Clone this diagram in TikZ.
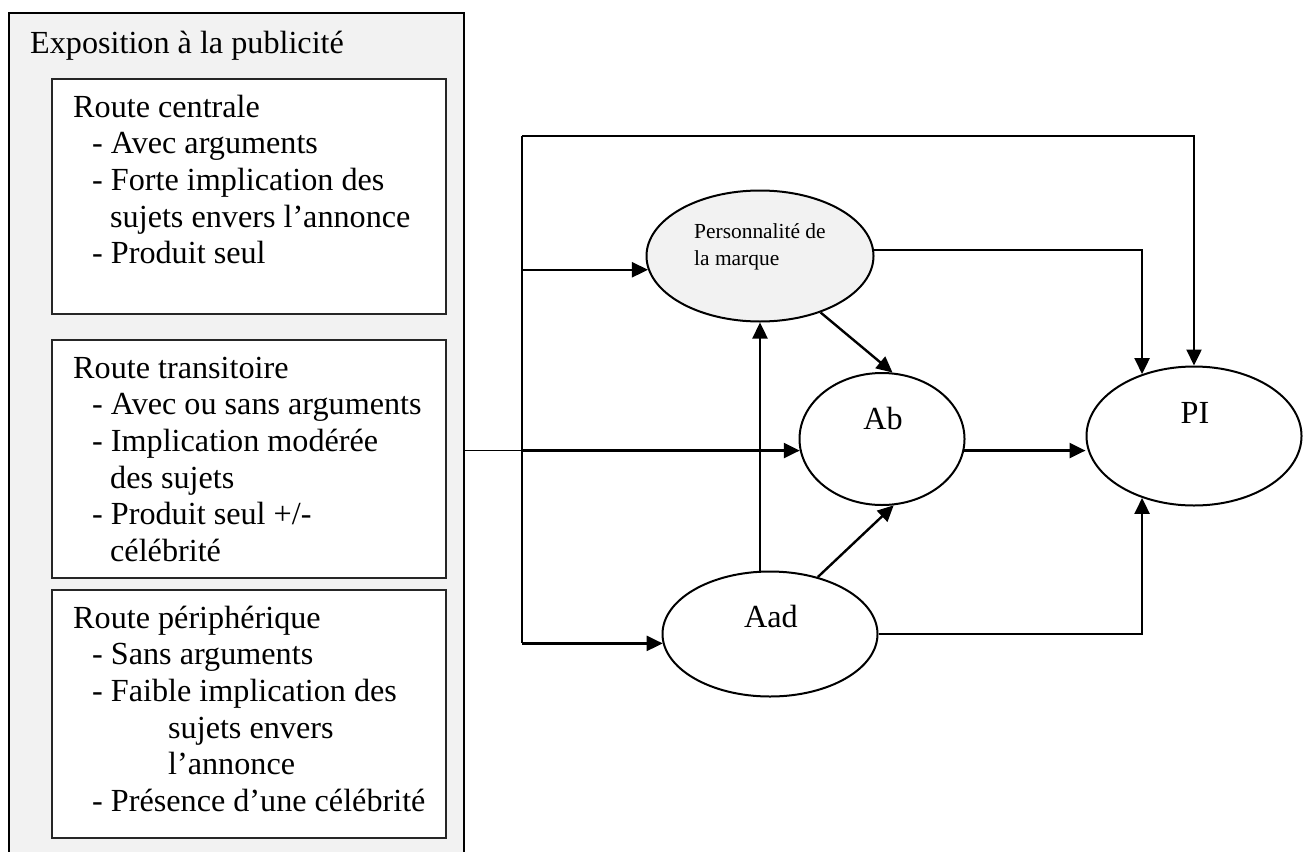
\documentclass[tikz,border=0pt]{standalone}
\usepackage{fontspec}
\setmainfont{Liberation Serif}
\usetikzlibrary{arrows.meta,shapes.geometric,calc}
\definecolor{panelgray}{HTML}{F2F2F2}

\begin{document}
\begin{tikzpicture}[x=1bp,y=-1bp,
  bigtext/.style={font=\fontsize{32.3}{36.8}\selectfont},
  smalltext/.style={font=\fontsize{21.5}{27}\selectfont},
  panel/.style={draw=black,line width=2.2bp,fill=panelgray,rectangle,inner sep=0,outer sep=0,anchor=north west},
  routebox/.style={draw=black!85,line width=1.8bp,fill=white,rectangle,inner sep=0,outer sep=0,anchor=north west,minimum width=394bp},
  block/.style={bigtext,align=left,inner sep=0,anchor=north west},
  var/.style={ellipse,draw=black,line width=2bp,inner sep=0,fill=white},
  arr/.style={line width=2.4bp,-{Triangle[length=16bp,width=15bp]}},
  wire/.style={line width=2bp},
]
\useasboundingbox (0,0) rectangle (1310,851);

% exposure panel with the three persuasion routes
\node[panel,minimum width=455bp,minimum height=880bp] (expo) at (9,13) {};
\node[bigtext,anchor=base west,inner sep=0] (expo-title) at (30,53) {Exposition à la publicité};

\node[routebox,minimum height=235bp] (central) at (52,79) {};
\node[routebox,minimum height=238bp] (transit) at (52,340) {};
\node[routebox,minimum height=248bp] (periph) at (52,590) {};

\node[block] (central-text) at (73,91.2) {\strut Route centrale\\
  \hspace*{19bp}- Avec arguments\\
  \hspace*{19bp}- Forte implication des\\
  \hspace*{37bp}sujets envers l’annonce\\
  \hspace*{19bp}- Produit seul};

\node[block] (transit-text) at (73,352.2) {\strut Route transitoire\\
  \hspace*{19bp}- Avec ou sans arguments\\
  \hspace*{19bp}- Implication modérée\\
  \hspace*{37bp}des sujets\\
  \hspace*{19bp}- Produit seul +/-\\
  \hspace*{37bp}célébrité};

\node[block] (periph-text) at (73,602.2) {\strut Route périphérique\\
  \hspace*{19bp}- Sans arguments\\
  \hspace*{19bp}- Faible implication des\\
  \hspace*{95bp}sujets envers\\
  \hspace*{95bp}l’annonce\\
  \hspace*{19bp}- Présence d’une célébrité};

% model variables
\node[var,fill=panelgray,minimum width=227bp,minimum height=131bp] (pers) at (760,256) {};
\node[smalltext,align=left,inner sep=0,anchor=north west] (pers-text) at (694,219.1) {\strut Personnalité de\\la marque};
\node[var,minimum width=165bp,minimum height=132bp] (ab) at (882,439) {};
\node[bigtext,anchor=base,inner sep=0] (ab-text) at (883,429) {Ab};
\node[var,minimum width=215bp,minimum height=139bp] (pi) at (1194,436) {};
\node[bigtext,anchor=base,inner sep=0] (pi-text) at (1195,423) {PI};
\node[var,minimum width=215bp,minimum height=125bp] (aad) at (770,634) {};
\node[bigtext,anchor=base,inner sep=0] (aad-text) at (771,627) {Aad};

% distribution spine fed by the exposure panel
\coordinate (spine-top) at (522,136);
\coordinate (spine-bot) at (spine-top |- aad.185);
\draw[wire] (spine-top) -- (spine-bot);
\draw[arr] (spine-top) -| (pi.north);
\draw[arr] (spine-top |- pers.187) -- (pers.187);
\draw[arr] (spine-bot) -- (aad.185);
\draw[line width=1bp] (expo.east |- ab.188) -- (spine-top |- ab.188);
\draw[arr] (spine-top |- ab.188) -- (ab.188);

% paths between variables
\draw[arr] (aad.north -| pers.south) -- (pers.south);
\draw[arr] (pers.-43.5) -- (ab.81);
\draw[arr] (aad.50) -- (ab.-80.5);
\draw[arr] (ab.-8) -- (ab.-8 -| pi.west);
\draw[arr] (pers.3) -| (pi.130.5);
\draw[arr] (aad.east) -| (pi.230);
\end{tikzpicture}
\end{document}
